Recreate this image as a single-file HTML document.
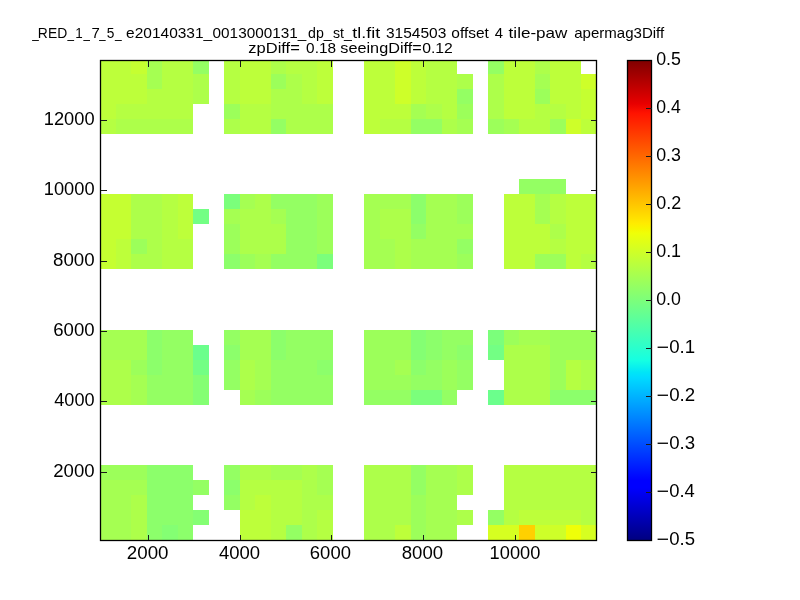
<!DOCTYPE html>
<html><head><meta charset="utf-8"><title>chart</title>
<style>
html,body{margin:0;padding:0;background:#fff;}
body{width:800px;height:600px;overflow:hidden;font-family:"Liberation Sans",sans-serif;}
svg{display:block;font-family:"Liberation Sans",sans-serif;}
</style></head><body>
<svg width="800" height="600" viewBox="0 0 800 600">
<defs><filter id="gs" x="0" y="0" width="800" height="600" filterUnits="userSpaceOnUse" color-interpolation-filters="sRGB"><feColorMatrix type="saturate" values="0"/></filter><linearGradient id="jet" x1="0" y1="0" x2="0" y2="1"><stop offset="0.0000" stop-color="#800000"/><stop offset="0.0900" stop-color="#e80000"/><stop offset="0.1100" stop-color="#ff1300"/><stop offset="0.3400" stop-color="#ffec00"/><stop offset="0.3500" stop-color="#f7f600"/><stop offset="0.3600" stop-color="#efff08"/><stop offset="0.6250" stop-color="#15ffe2"/><stop offset="0.6500" stop-color="#00e5f7"/><stop offset="0.6600" stop-color="#00dbff"/><stop offset="0.8750" stop-color="#0000ff"/><stop offset="0.8900" stop-color="#0000ff"/><stop offset="1.0000" stop-color="#000080"/></linearGradient></defs>
<rect width="800" height="600" fill="#fff"/>
<g shape-rendering="crispEdges"><rect x="100.00" y="60.50" width="31.06" height="13.20" fill="#bdff3a"/><rect x="131.06" y="60.50" width="15.53" height="13.20" fill="#c5ff31"/><rect x="146.59" y="60.50" width="15.53" height="13.20" fill="#a5ff52"/><rect x="162.12" y="60.50" width="31.06" height="13.20" fill="#b5ff42"/><rect x="193.18" y="60.50" width="15.53" height="13.20" fill="#94ff63"/><rect x="224.24" y="60.50" width="15.53" height="13.20" fill="#b5ff42"/><rect x="239.77" y="60.50" width="31.06" height="13.20" fill="#bdff3a"/><rect x="270.83" y="60.50" width="15.53" height="13.20" fill="#adff4a"/><rect x="286.36" y="60.50" width="31.06" height="13.20" fill="#b5ff42"/><rect x="317.42" y="60.50" width="15.53" height="13.20" fill="#bdff3a"/><rect x="364.01" y="60.50" width="31.06" height="13.20" fill="#bdff3a"/><rect x="395.07" y="60.50" width="15.53" height="13.20" fill="#ceff29"/><rect x="410.60" y="60.50" width="15.53" height="13.20" fill="#bdff3a"/><rect x="426.13" y="60.50" width="31.06" height="13.20" fill="#b5ff42"/><rect x="488.25" y="60.50" width="15.53" height="13.20" fill="#94ff63"/><rect x="503.78" y="60.50" width="31.06" height="13.20" fill="#bdff3a"/><rect x="534.84" y="60.50" width="15.53" height="13.20" fill="#adff4a"/><rect x="550.37" y="60.50" width="31.06" height="13.20" fill="#bdff3a"/><rect x="100.00" y="73.70" width="46.59" height="15.00" fill="#bdff3a"/><rect x="146.59" y="73.70" width="15.53" height="15.00" fill="#a5ff52"/><rect x="162.12" y="73.70" width="31.06" height="15.00" fill="#b5ff42"/><rect x="193.18" y="73.70" width="15.53" height="15.00" fill="#adff4a"/><rect x="224.24" y="73.70" width="15.53" height="15.00" fill="#b5ff42"/><rect x="239.77" y="73.70" width="31.06" height="15.00" fill="#bdff3a"/><rect x="270.83" y="73.70" width="15.53" height="15.00" fill="#9cff5a"/><rect x="286.36" y="73.70" width="15.53" height="15.00" fill="#adff4a"/><rect x="301.89" y="73.70" width="15.53" height="15.00" fill="#b5ff42"/><rect x="317.42" y="73.70" width="15.53" height="15.00" fill="#bdff3a"/><rect x="364.01" y="73.70" width="31.06" height="15.00" fill="#bdff3a"/><rect x="395.07" y="73.70" width="15.53" height="15.00" fill="#ceff29"/><rect x="410.60" y="73.70" width="15.53" height="15.00" fill="#bdff3a"/><rect x="426.13" y="73.70" width="31.06" height="15.00" fill="#b5ff42"/><rect x="457.19" y="73.70" width="15.53" height="15.00" fill="#adff4a"/><rect x="488.25" y="73.70" width="15.53" height="15.00" fill="#adff4a"/><rect x="503.78" y="73.70" width="31.06" height="15.00" fill="#bdff3a"/><rect x="534.84" y="73.70" width="15.53" height="15.00" fill="#a5ff52"/><rect x="550.37" y="73.70" width="31.06" height="15.00" fill="#bdff3a"/><rect x="581.43" y="73.70" width="15.07" height="15.00" fill="#ceff29"/><rect x="100.00" y="88.70" width="46.59" height="15.00" fill="#bdff3a"/><rect x="146.59" y="88.70" width="46.59" height="15.00" fill="#b5ff42"/><rect x="193.18" y="88.70" width="15.53" height="15.00" fill="#adff4a"/><rect x="224.24" y="88.70" width="15.53" height="15.00" fill="#b5ff42"/><rect x="239.77" y="88.70" width="31.06" height="15.00" fill="#bdff3a"/><rect x="270.83" y="88.70" width="31.06" height="15.00" fill="#adff4a"/><rect x="301.89" y="88.70" width="15.53" height="15.00" fill="#b5ff42"/><rect x="317.42" y="88.70" width="15.53" height="15.00" fill="#bdff3a"/><rect x="364.01" y="88.70" width="31.06" height="15.00" fill="#bdff3a"/><rect x="395.07" y="88.70" width="15.53" height="15.00" fill="#ceff29"/><rect x="410.60" y="88.70" width="15.53" height="15.00" fill="#bdff3a"/><rect x="426.13" y="88.70" width="31.06" height="15.00" fill="#b5ff42"/><rect x="457.19" y="88.70" width="15.53" height="15.00" fill="#94ff63"/><rect x="488.25" y="88.70" width="15.53" height="15.00" fill="#adff4a"/><rect x="503.78" y="88.70" width="31.06" height="15.00" fill="#bdff3a"/><rect x="534.84" y="88.70" width="15.53" height="15.00" fill="#9cff5a"/><rect x="550.37" y="88.70" width="31.06" height="15.00" fill="#bdff3a"/><rect x="581.43" y="88.70" width="15.07" height="15.00" fill="#c5ff31"/><rect x="100.00" y="103.70" width="15.53" height="15.00" fill="#bdff3a"/><rect x="115.53" y="103.70" width="77.65" height="15.00" fill="#b5ff42"/><rect x="224.24" y="103.70" width="15.53" height="15.00" fill="#9cff5a"/><rect x="239.77" y="103.70" width="31.06" height="15.00" fill="#b5ff42"/><rect x="270.83" y="103.70" width="62.12" height="15.00" fill="#adff4a"/><rect x="364.01" y="103.70" width="46.59" height="15.00" fill="#bdff3a"/><rect x="410.60" y="103.70" width="15.53" height="15.00" fill="#a5ff52"/><rect x="426.13" y="103.70" width="15.53" height="15.00" fill="#adff4a"/><rect x="441.66" y="103.70" width="15.53" height="15.00" fill="#b5ff42"/><rect x="457.19" y="103.70" width="15.53" height="15.00" fill="#9cff5a"/><rect x="488.25" y="103.70" width="15.53" height="15.00" fill="#adff4a"/><rect x="503.78" y="103.70" width="31.06" height="15.00" fill="#bdff3a"/><rect x="534.84" y="103.70" width="31.06" height="15.00" fill="#b5ff42"/><rect x="565.90" y="103.70" width="15.53" height="15.00" fill="#bdff3a"/><rect x="581.43" y="103.70" width="15.07" height="15.00" fill="#c5ff31"/><rect x="100.00" y="118.70" width="15.53" height="15.00" fill="#b5ff42"/><rect x="115.53" y="118.70" width="77.65" height="15.00" fill="#adff4a"/><rect x="224.24" y="118.70" width="15.53" height="15.00" fill="#adff4a"/><rect x="239.77" y="118.70" width="31.06" height="15.00" fill="#b5ff42"/><rect x="270.83" y="118.70" width="15.53" height="15.00" fill="#94ff63"/><rect x="286.36" y="118.70" width="46.59" height="15.00" fill="#adff4a"/><rect x="364.01" y="118.70" width="15.53" height="15.00" fill="#bdff3a"/><rect x="379.54" y="118.70" width="31.06" height="15.00" fill="#b5ff42"/><rect x="410.60" y="118.70" width="31.06" height="15.00" fill="#94ff63"/><rect x="441.66" y="118.70" width="15.53" height="15.00" fill="#adff4a"/><rect x="457.19" y="118.70" width="15.53" height="15.00" fill="#a5ff52"/><rect x="488.25" y="118.70" width="15.53" height="15.00" fill="#9cff5a"/><rect x="503.78" y="118.70" width="15.53" height="15.00" fill="#a5ff52"/><rect x="519.31" y="118.70" width="31.06" height="15.00" fill="#b5ff42"/><rect x="550.37" y="118.70" width="15.53" height="15.00" fill="#9cff5a"/><rect x="565.90" y="118.70" width="15.53" height="15.00" fill="#ceff29"/><rect x="581.43" y="118.70" width="15.07" height="15.00" fill="#bdff3a"/><rect x="519.31" y="179.20" width="46.59" height="15.00" fill="#94ff63"/><rect x="100.00" y="194.20" width="31.06" height="15.00" fill="#c5ff31"/><rect x="131.06" y="194.20" width="31.06" height="15.00" fill="#adff4a"/><rect x="162.12" y="194.20" width="15.53" height="15.00" fill="#b5ff42"/><rect x="177.65" y="194.20" width="15.53" height="15.00" fill="#bdff3a"/><rect x="224.24" y="194.20" width="15.53" height="15.00" fill="#7bff7b"/><rect x="239.77" y="194.20" width="15.53" height="15.00" fill="#a5ff52"/><rect x="255.30" y="194.20" width="15.53" height="15.00" fill="#adff4a"/><rect x="270.83" y="194.20" width="46.59" height="15.00" fill="#94ff63"/><rect x="317.42" y="194.20" width="15.53" height="15.00" fill="#9cff5a"/><rect x="364.01" y="194.20" width="46.59" height="15.00" fill="#a5ff52"/><rect x="410.60" y="194.20" width="15.53" height="15.00" fill="#8cff6b"/><rect x="426.13" y="194.20" width="31.06" height="15.00" fill="#a5ff52"/><rect x="457.19" y="194.20" width="15.53" height="15.00" fill="#9cff5a"/><rect x="503.78" y="194.20" width="31.06" height="15.00" fill="#bdff3a"/><rect x="534.84" y="194.20" width="15.53" height="15.00" fill="#a5ff52"/><rect x="550.37" y="194.20" width="15.53" height="15.00" fill="#b5ff42"/><rect x="565.90" y="194.20" width="30.60" height="15.00" fill="#bdff3a"/><rect x="100.00" y="209.20" width="31.06" height="15.00" fill="#c5ff31"/><rect x="131.06" y="209.20" width="31.06" height="15.00" fill="#adff4a"/><rect x="162.12" y="209.20" width="15.53" height="15.00" fill="#b5ff42"/><rect x="177.65" y="209.20" width="15.53" height="15.00" fill="#bdff3a"/><rect x="193.18" y="209.20" width="15.53" height="15.00" fill="#73ff84"/><rect x="224.24" y="209.20" width="15.53" height="15.00" fill="#a5ff52"/><rect x="239.77" y="209.20" width="31.06" height="15.00" fill="#adff4a"/><rect x="270.83" y="209.20" width="15.53" height="15.00" fill="#a5ff52"/><rect x="286.36" y="209.20" width="31.06" height="15.00" fill="#94ff63"/><rect x="317.42" y="209.20" width="15.53" height="15.00" fill="#9cff5a"/><rect x="364.01" y="209.20" width="15.53" height="15.00" fill="#a5ff52"/><rect x="379.54" y="209.20" width="31.06" height="15.00" fill="#adff4a"/><rect x="410.60" y="209.20" width="15.53" height="15.00" fill="#8cff6b"/><rect x="426.13" y="209.20" width="31.06" height="15.00" fill="#a5ff52"/><rect x="457.19" y="209.20" width="15.53" height="15.00" fill="#9cff5a"/><rect x="503.78" y="209.20" width="31.06" height="15.00" fill="#bdff3a"/><rect x="534.84" y="209.20" width="15.53" height="15.00" fill="#a5ff52"/><rect x="550.37" y="209.20" width="15.53" height="15.00" fill="#b5ff42"/><rect x="565.90" y="209.20" width="30.60" height="15.00" fill="#bdff3a"/><rect x="100.00" y="224.20" width="31.06" height="15.00" fill="#c5ff31"/><rect x="131.06" y="224.20" width="31.06" height="15.00" fill="#adff4a"/><rect x="162.12" y="224.20" width="15.53" height="15.00" fill="#b5ff42"/><rect x="177.65" y="224.20" width="15.53" height="15.00" fill="#bdff3a"/><rect x="224.24" y="224.20" width="15.53" height="15.00" fill="#9cff5a"/><rect x="239.77" y="224.20" width="46.59" height="15.00" fill="#adff4a"/><rect x="286.36" y="224.20" width="31.06" height="15.00" fill="#94ff63"/><rect x="317.42" y="224.20" width="15.53" height="15.00" fill="#9cff5a"/><rect x="364.01" y="224.20" width="15.53" height="15.00" fill="#a5ff52"/><rect x="379.54" y="224.20" width="31.06" height="15.00" fill="#adff4a"/><rect x="410.60" y="224.20" width="15.53" height="15.00" fill="#94ff63"/><rect x="426.13" y="224.20" width="46.59" height="15.00" fill="#a5ff52"/><rect x="503.78" y="224.20" width="46.59" height="15.00" fill="#bdff3a"/><rect x="550.37" y="224.20" width="15.53" height="15.00" fill="#adff4a"/><rect x="565.90" y="224.20" width="30.60" height="15.00" fill="#bdff3a"/><rect x="100.00" y="239.20" width="15.53" height="15.00" fill="#c5ff31"/><rect x="115.53" y="239.20" width="15.53" height="15.00" fill="#bdff3a"/><rect x="131.06" y="239.20" width="15.53" height="15.00" fill="#9cff5a"/><rect x="146.59" y="239.20" width="15.53" height="15.00" fill="#adff4a"/><rect x="162.12" y="239.20" width="31.06" height="15.00" fill="#b5ff42"/><rect x="224.24" y="239.20" width="15.53" height="15.00" fill="#9cff5a"/><rect x="239.77" y="239.20" width="46.59" height="15.00" fill="#adff4a"/><rect x="286.36" y="239.20" width="31.06" height="15.00" fill="#94ff63"/><rect x="317.42" y="239.20" width="15.53" height="15.00" fill="#9cff5a"/><rect x="364.01" y="239.20" width="31.06" height="15.00" fill="#a5ff52"/><rect x="395.07" y="239.20" width="15.53" height="15.00" fill="#adff4a"/><rect x="410.60" y="239.20" width="46.59" height="15.00" fill="#a5ff52"/><rect x="457.19" y="239.20" width="15.53" height="15.00" fill="#94ff63"/><rect x="503.78" y="239.20" width="46.59" height="15.00" fill="#bdff3a"/><rect x="550.37" y="239.20" width="15.53" height="15.00" fill="#b5ff42"/><rect x="565.90" y="239.20" width="30.60" height="15.00" fill="#bdff3a"/><rect x="100.00" y="254.20" width="15.53" height="14.80" fill="#c5ff31"/><rect x="115.53" y="254.20" width="15.53" height="14.80" fill="#bdff3a"/><rect x="131.06" y="254.20" width="31.06" height="14.80" fill="#adff4a"/><rect x="162.12" y="254.20" width="31.06" height="14.80" fill="#b5ff42"/><rect x="224.24" y="254.20" width="15.53" height="14.80" fill="#8cff6b"/><rect x="239.77" y="254.20" width="15.53" height="14.80" fill="#9cff5a"/><rect x="255.30" y="254.20" width="15.53" height="14.80" fill="#a5ff52"/><rect x="270.83" y="254.20" width="46.59" height="14.80" fill="#94ff63"/><rect x="317.42" y="254.20" width="15.53" height="14.80" fill="#7bff7b"/><rect x="364.01" y="254.20" width="31.06" height="14.80" fill="#a5ff52"/><rect x="395.07" y="254.20" width="15.53" height="14.80" fill="#adff4a"/><rect x="410.60" y="254.20" width="46.59" height="14.80" fill="#a5ff52"/><rect x="457.19" y="254.20" width="15.53" height="14.80" fill="#9cff5a"/><rect x="503.78" y="254.20" width="31.06" height="14.80" fill="#bdff3a"/><rect x="534.84" y="254.20" width="31.06" height="14.80" fill="#9cff5a"/><rect x="565.90" y="254.20" width="15.53" height="14.80" fill="#bdff3a"/><rect x="581.43" y="254.20" width="15.07" height="14.80" fill="#b5ff42"/><rect x="100.00" y="330.00" width="46.59" height="15.00" fill="#a5ff52"/><rect x="146.59" y="330.00" width="15.53" height="15.00" fill="#8cff6b"/><rect x="162.12" y="330.00" width="31.06" height="15.00" fill="#94ff63"/><rect x="224.24" y="330.00" width="15.53" height="15.00" fill="#94ff63"/><rect x="239.77" y="330.00" width="31.06" height="15.00" fill="#a5ff52"/><rect x="270.83" y="330.00" width="15.53" height="15.00" fill="#8cff6b"/><rect x="286.36" y="330.00" width="46.59" height="15.00" fill="#94ff63"/><rect x="364.01" y="330.00" width="46.59" height="15.00" fill="#9cff5a"/><rect x="410.60" y="330.00" width="15.53" height="15.00" fill="#84ff73"/><rect x="426.13" y="330.00" width="15.53" height="15.00" fill="#8cff6b"/><rect x="441.66" y="330.00" width="31.06" height="15.00" fill="#94ff63"/><rect x="488.25" y="330.00" width="15.53" height="15.00" fill="#7bff7b"/><rect x="503.78" y="330.00" width="15.53" height="15.00" fill="#9cff5a"/><rect x="519.31" y="330.00" width="31.06" height="15.00" fill="#a5ff52"/><rect x="550.37" y="330.00" width="46.13" height="15.00" fill="#9cff5a"/><rect x="100.00" y="345.00" width="46.59" height="15.00" fill="#a5ff52"/><rect x="146.59" y="345.00" width="15.53" height="15.00" fill="#8cff6b"/><rect x="162.12" y="345.00" width="31.06" height="15.00" fill="#94ff63"/><rect x="193.18" y="345.00" width="15.53" height="15.00" fill="#6bff8c"/><rect x="224.24" y="345.00" width="15.53" height="15.00" fill="#8cff6b"/><rect x="239.77" y="345.00" width="31.06" height="15.00" fill="#a5ff52"/><rect x="270.83" y="345.00" width="15.53" height="15.00" fill="#8cff6b"/><rect x="286.36" y="345.00" width="46.59" height="15.00" fill="#94ff63"/><rect x="364.01" y="345.00" width="46.59" height="15.00" fill="#9cff5a"/><rect x="410.60" y="345.00" width="15.53" height="15.00" fill="#84ff73"/><rect x="426.13" y="345.00" width="15.53" height="15.00" fill="#8cff6b"/><rect x="441.66" y="345.00" width="15.53" height="15.00" fill="#94ff63"/><rect x="457.19" y="345.00" width="15.53" height="15.00" fill="#8cff6b"/><rect x="488.25" y="345.00" width="15.53" height="15.00" fill="#73ff84"/><rect x="503.78" y="345.00" width="46.59" height="15.00" fill="#adff4a"/><rect x="550.37" y="345.00" width="46.13" height="15.00" fill="#9cff5a"/><rect x="100.00" y="360.00" width="31.06" height="15.00" fill="#adff4a"/><rect x="131.06" y="360.00" width="15.53" height="15.00" fill="#9cff5a"/><rect x="146.59" y="360.00" width="15.53" height="15.00" fill="#8cff6b"/><rect x="162.12" y="360.00" width="31.06" height="15.00" fill="#94ff63"/><rect x="193.18" y="360.00" width="15.53" height="15.00" fill="#73ff84"/><rect x="224.24" y="360.00" width="15.53" height="15.00" fill="#94ff63"/><rect x="239.77" y="360.00" width="15.53" height="15.00" fill="#adff4a"/><rect x="255.30" y="360.00" width="15.53" height="15.00" fill="#a5ff52"/><rect x="270.83" y="360.00" width="46.59" height="15.00" fill="#94ff63"/><rect x="317.42" y="360.00" width="15.53" height="15.00" fill="#8cff6b"/><rect x="364.01" y="360.00" width="31.06" height="15.00" fill="#9cff5a"/><rect x="395.07" y="360.00" width="15.53" height="15.00" fill="#a5ff52"/><rect x="410.60" y="360.00" width="15.53" height="15.00" fill="#8cff6b"/><rect x="426.13" y="360.00" width="15.53" height="15.00" fill="#94ff63"/><rect x="441.66" y="360.00" width="15.53" height="15.00" fill="#9cff5a"/><rect x="457.19" y="360.00" width="15.53" height="15.00" fill="#94ff63"/><rect x="503.78" y="360.00" width="46.59" height="15.00" fill="#adff4a"/><rect x="550.37" y="360.00" width="15.53" height="15.00" fill="#9cff5a"/><rect x="565.90" y="360.00" width="15.53" height="15.00" fill="#b5ff42"/><rect x="581.43" y="360.00" width="15.07" height="15.00" fill="#adff4a"/><rect x="100.00" y="375.00" width="31.06" height="15.00" fill="#adff4a"/><rect x="131.06" y="375.00" width="15.53" height="15.00" fill="#a5ff52"/><rect x="146.59" y="375.00" width="46.59" height="15.00" fill="#94ff63"/><rect x="193.18" y="375.00" width="15.53" height="15.00" fill="#84ff73"/><rect x="224.24" y="375.00" width="15.53" height="15.00" fill="#94ff63"/><rect x="239.77" y="375.00" width="15.53" height="15.00" fill="#adff4a"/><rect x="255.30" y="375.00" width="15.53" height="15.00" fill="#a5ff52"/><rect x="270.83" y="375.00" width="62.12" height="15.00" fill="#94ff63"/><rect x="364.01" y="375.00" width="46.59" height="15.00" fill="#9cff5a"/><rect x="410.60" y="375.00" width="31.06" height="15.00" fill="#94ff63"/><rect x="441.66" y="375.00" width="15.53" height="15.00" fill="#9cff5a"/><rect x="457.19" y="375.00" width="15.53" height="15.00" fill="#94ff63"/><rect x="503.78" y="375.00" width="46.59" height="15.00" fill="#adff4a"/><rect x="550.37" y="375.00" width="15.53" height="15.00" fill="#9cff5a"/><rect x="565.90" y="375.00" width="15.53" height="15.00" fill="#b5ff42"/><rect x="581.43" y="375.00" width="15.07" height="15.00" fill="#adff4a"/><rect x="100.00" y="390.00" width="31.06" height="15.00" fill="#adff4a"/><rect x="131.06" y="390.00" width="15.53" height="15.00" fill="#a5ff52"/><rect x="146.59" y="390.00" width="46.59" height="15.00" fill="#94ff63"/><rect x="193.18" y="390.00" width="15.53" height="15.00" fill="#84ff73"/><rect x="239.77" y="390.00" width="15.53" height="15.00" fill="#a5ff52"/><rect x="255.30" y="390.00" width="15.53" height="15.00" fill="#9cff5a"/><rect x="270.83" y="390.00" width="62.12" height="15.00" fill="#94ff63"/><rect x="364.01" y="390.00" width="46.59" height="15.00" fill="#94ff63"/><rect x="410.60" y="390.00" width="31.06" height="15.00" fill="#7bff7b"/><rect x="441.66" y="390.00" width="15.53" height="15.00" fill="#94ff63"/><rect x="488.25" y="390.00" width="15.53" height="15.00" fill="#6bff8c"/><rect x="503.78" y="390.00" width="46.59" height="15.00" fill="#adff4a"/><rect x="550.37" y="390.00" width="46.13" height="15.00" fill="#8cff6b"/><rect x="100.00" y="465.00" width="46.59" height="15.00" fill="#9cff5a"/><rect x="146.59" y="465.00" width="46.59" height="15.00" fill="#8cff6b"/><rect x="224.24" y="465.00" width="15.53" height="15.00" fill="#94ff63"/><rect x="239.77" y="465.00" width="31.06" height="15.00" fill="#adff4a"/><rect x="270.83" y="465.00" width="31.06" height="15.00" fill="#a5ff52"/><rect x="301.89" y="465.00" width="15.53" height="15.00" fill="#adff4a"/><rect x="317.42" y="465.00" width="15.53" height="15.00" fill="#a5ff52"/><rect x="364.01" y="465.00" width="46.59" height="15.00" fill="#adff4a"/><rect x="410.60" y="465.00" width="15.53" height="15.00" fill="#94ff63"/><rect x="426.13" y="465.00" width="31.06" height="15.00" fill="#a5ff52"/><rect x="457.19" y="465.00" width="15.53" height="15.00" fill="#adff4a"/><rect x="503.78" y="465.00" width="92.72" height="15.00" fill="#b5ff42"/><rect x="100.00" y="480.00" width="46.59" height="15.00" fill="#a5ff52"/><rect x="146.59" y="480.00" width="46.59" height="15.00" fill="#8cff6b"/><rect x="193.18" y="480.00" width="15.53" height="15.00" fill="#94ff63"/><rect x="224.24" y="480.00" width="15.53" height="15.00" fill="#8cff6b"/><rect x="239.77" y="480.00" width="62.12" height="15.00" fill="#b5ff42"/><rect x="301.89" y="480.00" width="15.53" height="15.00" fill="#adff4a"/><rect x="317.42" y="480.00" width="15.53" height="15.00" fill="#a5ff52"/><rect x="364.01" y="480.00" width="46.59" height="15.00" fill="#adff4a"/><rect x="410.60" y="480.00" width="15.53" height="15.00" fill="#94ff63"/><rect x="426.13" y="480.00" width="31.06" height="15.00" fill="#a5ff52"/><rect x="457.19" y="480.00" width="15.53" height="15.00" fill="#adff4a"/><rect x="503.78" y="480.00" width="92.72" height="15.00" fill="#b5ff42"/><rect x="100.00" y="495.00" width="31.06" height="15.00" fill="#a5ff52"/><rect x="131.06" y="495.00" width="15.53" height="15.00" fill="#adff4a"/><rect x="146.59" y="495.00" width="46.59" height="15.00" fill="#8cff6b"/><rect x="224.24" y="495.00" width="15.53" height="15.00" fill="#94ff63"/><rect x="239.77" y="495.00" width="15.53" height="15.00" fill="#b5ff42"/><rect x="255.30" y="495.00" width="15.53" height="15.00" fill="#bdff3a"/><rect x="270.83" y="495.00" width="31.06" height="15.00" fill="#b5ff42"/><rect x="301.89" y="495.00" width="31.06" height="15.00" fill="#adff4a"/><rect x="364.01" y="495.00" width="46.59" height="15.00" fill="#adff4a"/><rect x="410.60" y="495.00" width="15.53" height="15.00" fill="#9cff5a"/><rect x="426.13" y="495.00" width="31.06" height="15.00" fill="#a5ff52"/><rect x="503.78" y="495.00" width="92.72" height="15.00" fill="#b5ff42"/><rect x="100.00" y="510.00" width="31.06" height="15.00" fill="#a5ff52"/><rect x="131.06" y="510.00" width="15.53" height="15.00" fill="#adff4a"/><rect x="146.59" y="510.00" width="46.59" height="15.00" fill="#8cff6b"/><rect x="193.18" y="510.00" width="15.53" height="15.00" fill="#84ff73"/><rect x="239.77" y="510.00" width="31.06" height="15.00" fill="#bdff3a"/><rect x="270.83" y="510.00" width="31.06" height="15.00" fill="#b5ff42"/><rect x="301.89" y="510.00" width="15.53" height="15.00" fill="#adff4a"/><rect x="317.42" y="510.00" width="15.53" height="15.00" fill="#b5ff42"/><rect x="364.01" y="510.00" width="46.59" height="15.00" fill="#adff4a"/><rect x="410.60" y="510.00" width="15.53" height="15.00" fill="#9cff5a"/><rect x="426.13" y="510.00" width="31.06" height="15.00" fill="#a5ff52"/><rect x="457.19" y="510.00" width="15.53" height="15.00" fill="#adff4a"/><rect x="488.25" y="510.00" width="15.53" height="15.00" fill="#94ff63"/><rect x="503.78" y="510.00" width="15.53" height="15.00" fill="#b5ff42"/><rect x="519.31" y="510.00" width="62.12" height="15.00" fill="#bdff3a"/><rect x="581.43" y="510.00" width="15.07" height="15.00" fill="#b5ff42"/><rect x="100.00" y="525.00" width="31.06" height="15.00" fill="#a5ff52"/><rect x="131.06" y="525.00" width="15.53" height="15.00" fill="#adff4a"/><rect x="146.59" y="525.00" width="15.53" height="15.00" fill="#8cff6b"/><rect x="162.12" y="525.00" width="15.53" height="15.00" fill="#84ff73"/><rect x="177.65" y="525.00" width="15.53" height="15.00" fill="#8cff6b"/><rect x="239.77" y="525.00" width="31.06" height="15.00" fill="#bdff3a"/><rect x="270.83" y="525.00" width="15.53" height="15.00" fill="#b5ff42"/><rect x="286.36" y="525.00" width="15.53" height="15.00" fill="#94ff63"/><rect x="301.89" y="525.00" width="15.53" height="15.00" fill="#adff4a"/><rect x="317.42" y="525.00" width="15.53" height="15.00" fill="#b5ff42"/><rect x="364.01" y="525.00" width="31.06" height="15.00" fill="#adff4a"/><rect x="395.07" y="525.00" width="15.53" height="15.00" fill="#bdff3a"/><rect x="410.60" y="525.00" width="15.53" height="15.00" fill="#9cff5a"/><rect x="426.13" y="525.00" width="31.06" height="15.00" fill="#a5ff52"/><rect x="488.25" y="525.00" width="31.06" height="15.00" fill="#d6ff21"/><rect x="519.31" y="525.00" width="15.53" height="15.00" fill="#ffd000"/><rect x="534.84" y="525.00" width="31.06" height="15.00" fill="#ceff29"/><rect x="565.90" y="525.00" width="15.53" height="15.00" fill="#efff08"/><rect x="581.43" y="525.00" width="15.07" height="15.00" fill="#d6ff21"/></g>
<rect x="627.5" y="60.5" width="24" height="480" fill="url(#jet)" stroke="#000" stroke-width="1.3"/>
<rect x="100.5" y="60.5" width="496" height="480" fill="none" stroke="#000" stroke-width="1.3"/>
<g stroke="#1a1a1a" stroke-width="1" shape-rendering="crispEdges"><line x1="148.5" y1="540" x2="148.5" y2="534.5"/><line x1="148.5" y1="61" x2="148.5" y2="66.5"/><line x1="240.5" y1="540" x2="240.5" y2="534.5"/><line x1="240.5" y1="61" x2="240.5" y2="66.5"/><line x1="331.5" y1="540" x2="331.5" y2="534.5"/><line x1="331.5" y1="61" x2="331.5" y2="66.5"/><line x1="423.5" y1="540" x2="423.5" y2="534.5"/><line x1="423.5" y1="61" x2="423.5" y2="66.5"/><line x1="515.5" y1="540" x2="515.5" y2="534.5"/><line x1="515.5" y1="61" x2="515.5" y2="66.5"/><line x1="101" y1="120.5" x2="106.5" y2="120.5"/><line x1="596" y1="120.5" x2="590.5" y2="120.5"/><line x1="101" y1="190.5" x2="106.5" y2="190.5"/><line x1="596" y1="190.5" x2="590.5" y2="190.5"/><line x1="101" y1="261.5" x2="106.5" y2="261.5"/><line x1="596" y1="261.5" x2="590.5" y2="261.5"/><line x1="101" y1="331.5" x2="106.5" y2="331.5"/><line x1="596" y1="331.5" x2="590.5" y2="331.5"/><line x1="101" y1="401.5" x2="106.5" y2="401.5"/><line x1="596" y1="401.5" x2="590.5" y2="401.5"/><line x1="101" y1="472.5" x2="106.5" y2="472.5"/><line x1="596" y1="472.5" x2="590.5" y2="472.5"/><line x1="651.5" y1="108.5" x2="646" y2="108.5"/><line x1="651.5" y1="156.5" x2="646" y2="156.5"/><line x1="651.5" y1="204.5" x2="646" y2="204.5"/><line x1="651.5" y1="252.5" x2="646" y2="252.5"/><line x1="651.5" y1="300.5" x2="646" y2="300.5"/><line x1="651.5" y1="348.5" x2="646" y2="348.5"/><line x1="651.5" y1="396.5" x2="646" y2="396.5"/><line x1="651.5" y1="444.5" x2="646" y2="444.5"/><line x1="651.5" y1="492.5" x2="646" y2="492.5"/></g>
<g fill="#000" filter="url(#gs)"><text x="126.86" y="559.40" font-size="17.50" textLength="41.67" lengthAdjust="spacingAndGlyphs">2000</text><text x="218.98" y="559.40" font-size="17.50" textLength="41.15" lengthAdjust="spacingAndGlyphs">4000</text><text x="309.86" y="559.40" font-size="17.50" textLength="41.06" lengthAdjust="spacingAndGlyphs">6000</text><text x="401.79" y="559.40" font-size="17.50" textLength="41.33" lengthAdjust="spacingAndGlyphs">8000</text><text x="489.61" y="559.40" font-size="17.50" textLength="50.70" lengthAdjust="spacingAndGlyphs">10000</text><text x="43.81" y="124.80" font-size="17.50" textLength="50.81" lengthAdjust="spacingAndGlyphs">12000</text><text x="43.81" y="194.80" font-size="17.50" textLength="50.81" lengthAdjust="spacingAndGlyphs">10000</text><text x="52.99" y="265.80" font-size="17.50" textLength="41.64" lengthAdjust="spacingAndGlyphs">8000</text><text x="53.26" y="335.80" font-size="17.50" textLength="41.37" lengthAdjust="spacingAndGlyphs">6000</text><text x="54.28" y="405.80" font-size="17.50" textLength="40.32" lengthAdjust="spacingAndGlyphs">4000</text><text x="53.26" y="476.80" font-size="17.50" textLength="41.36" lengthAdjust="spacingAndGlyphs">2000</text><text x="656.20" y="64.70" font-size="17.50" textLength="24.74" lengthAdjust="spacingAndGlyphs">0.5</text><text x="656.21" y="112.70" font-size="17.50" textLength="24.51" lengthAdjust="spacingAndGlyphs">0.4</text><text x="656.20" y="160.70" font-size="17.50" textLength="24.78" lengthAdjust="spacingAndGlyphs">0.3</text><text x="656.20" y="208.70" font-size="17.50" textLength="24.90" lengthAdjust="spacingAndGlyphs">0.2</text><text x="656.20" y="256.70" font-size="17.50" textLength="24.87" lengthAdjust="spacingAndGlyphs">0.1</text><text x="656.21" y="304.70" font-size="17.50" textLength="24.69" lengthAdjust="spacingAndGlyphs">0.0</text><text x="669.17" y="352.70" font-size="17.50" textLength="25.94" lengthAdjust="spacingAndGlyphs">0.1</text><rect x="657.6" y="346.60" width="10.4" height="1.3"/><text x="669.17" y="400.70" font-size="17.50" textLength="25.97" lengthAdjust="spacingAndGlyphs">0.2</text><rect x="657.6" y="394.60" width="10.4" height="1.3"/><text x="669.17" y="448.70" font-size="17.50" textLength="25.84" lengthAdjust="spacingAndGlyphs">0.3</text><rect x="657.6" y="442.60" width="10.4" height="1.3"/><text x="669.18" y="496.70" font-size="17.50" textLength="25.56" lengthAdjust="spacingAndGlyphs">0.4</text><rect x="657.6" y="490.60" width="10.4" height="1.3"/><text x="669.17" y="544.70" font-size="17.50" textLength="25.80" lengthAdjust="spacingAndGlyphs">0.5</text><rect x="657.6" y="538.60" width="10.4" height="1.3"/></g>
<g fill="#000" filter="url(#gs)"><text x="32.18" y="37.90" font-size="14.40" textLength="6.49" lengthAdjust="spacingAndGlyphs">_</text><text x="37.86" y="37.90" font-size="14.40" textLength="29.30" lengthAdjust="spacingAndGlyphs">RED</text><text x="67.38" y="37.90" font-size="14.40" textLength="6.49" lengthAdjust="spacingAndGlyphs">_</text><text x="75.18" y="37.90" font-size="14.40" textLength="7.48" lengthAdjust="spacingAndGlyphs">1</text><text x="83.47" y="37.90" font-size="14.40" textLength="6.40" lengthAdjust="spacingAndGlyphs">_</text><text x="91.43" y="37.90" font-size="14.40" textLength="8.32" lengthAdjust="spacingAndGlyphs">7</text><text x="99.37" y="37.90" font-size="14.40" textLength="6.30" lengthAdjust="spacingAndGlyphs">_</text><text x="106.65" y="37.90" font-size="14.40" textLength="7.62" lengthAdjust="spacingAndGlyphs">5</text><text x="114.98" y="37.90" font-size="14.40" textLength="6.68" lengthAdjust="spacingAndGlyphs">_</text><text x="126.14" y="37.90" font-size="14.40" textLength="86.08" lengthAdjust="spacingAndGlyphs">e20140331_</text><text x="212.60" y="37.90" font-size="14.40" textLength="93.63" lengthAdjust="spacingAndGlyphs">0013000131_</text><text x="308.01" y="37.90" font-size="14.40" textLength="23.64" lengthAdjust="spacingAndGlyphs">dp_</text><text x="333.01" y="37.90" font-size="14.40" textLength="18.83" lengthAdjust="spacingAndGlyphs">st_</text><text x="352.33" y="37.90" font-size="14.40" textLength="27.80" lengthAdjust="spacingAndGlyphs">tl.fit</text><text x="385.91" y="37.90" font-size="14.40" textLength="60.37" lengthAdjust="spacingAndGlyphs">3154503</text><text x="451.36" y="37.90" font-size="14.40" textLength="37.56" lengthAdjust="spacingAndGlyphs">offset</text><text x="494.76" y="37.90" font-size="14.40" textLength="8.28" lengthAdjust="spacingAndGlyphs">4</text><text x="508.64" y="37.90" font-size="14.40" textLength="58.82" lengthAdjust="spacingAndGlyphs">tile-paw</text><text x="574.26" y="37.90" font-size="14.40" textLength="89.91" lengthAdjust="spacingAndGlyphs">apermag3Diff</text><text x="248.34" y="52.50" font-size="14.40" textLength="51.47" lengthAdjust="spacingAndGlyphs">zpDiff=</text><text x="306.10" y="52.50" font-size="14.40" textLength="29.87" lengthAdjust="spacingAndGlyphs">0.18</text><text x="340.35" y="52.50" font-size="14.40" textLength="81.35" lengthAdjust="spacingAndGlyphs">seeingDiff=</text><text x="422.19" y="52.50" font-size="14.40" textLength="30.61" lengthAdjust="spacingAndGlyphs">0.12</text></g>
</svg>
</body></html>
